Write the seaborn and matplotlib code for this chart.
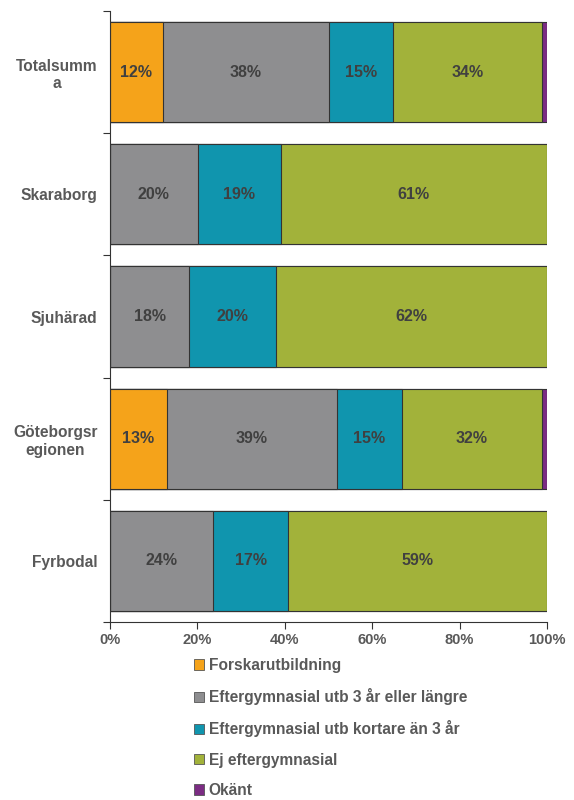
import numpy as np
import pandas as pd
import matplotlib
matplotlib.use("Agg")
import matplotlib.pyplot as plt
import seaborn as sns
from matplotlib.patches import Patch

# data (andel i procent)
regions = ["Totalsumm\na", "Skaraborg", "Sjuhärad", "Göteborgsr\negionen", "Fyrbodal"]
series = ["Forskarutbildning", "Eftergymnasial utb 3 år eller längre",
          "Eftergymnasial utb kortare än 3 år", "Ej eftergymnasial", "Okänt"]
forskar = [12.1, 0.0, 0.0, 13.0, 0.0]
efter_lang = [38.0, 20.1, 18.1, 38.9, 23.6]
efter_kort = [14.6, 19.0, 19.9, 14.9, 17.2]
ej_efter = [34.2, 60.9, 62.0, 32.1, 59.2]
okant = [1.1, 0.0, 0.0, 1.1, 0.0]
colors = ["#F5A31A", "#8E8E90", "#1095AE", "#A2B23A", "#7B2C83"]

sns.set_style("white")
plt.rcParams['font.family'] = ['Liberation Sans', 'DejaVu Sans']
plt.rcParams['font.weight'] = 'bold'

df = pd.DataFrame({"region": regions})
vals = [forskar, efter_lang, efter_kort, ej_efter, okant]
for name, v in zip(series, vals):
    df[name] = v
cum = df[series].cumsum(axis=1)

fig = plt.figure(figsize=(5.74, 8.0), dpi=100)
ax = fig.add_axes([110 / 574, 1 - 622 / 800, 437 / 574, 611 / 800])

# stacked: draw cumulative totals from largest to smallest
for name, col in reversed(list(zip(series, colors))):
    sns.barplot(x=cum[name], y=df["region"], orient="h", color=col,
                width=0.82, edgecolor="#333333", linewidth=0.8, ax=ax,
                saturation=1)

# value labels in segment centres
for i in range(len(regions)):
    left = 0
    for name in series:
        v = df.loc[i, name]
        if v >= 2:
            ax.text(left + v / 2, i, f"{round(v)}%", ha="center", va="center",
                    fontsize=11.5, fontweight="bold", color="#404040")
        left += v

ax.set_xlim(0, 100)
ax.set_ylim(4.5, -0.5)
ax.set_xticks(np.arange(0, 101, 20))
ax.set_xticklabels([f"{t}%" for t in range(0, 101, 20)], fontsize=10.5,
                   fontweight="bold", color="#595959")
ax.set_yticks(range(len(regions)))
ax.set_yticklabels(regions, fontsize=11.2, fontweight="bold", color="#595959",
                   multialignment="center")
ax.set_yticks(np.arange(-0.5, 4.6, 1), minor=True)
ax.tick_params(axis="y", which="major", length=0, pad=9)
ax.tick_params(axis="y", which="minor", length=5, width=0.8, color="#333333",
               direction="out", left=True)
ax.tick_params(axis="x", length=5, width=0.8, color="#333333", direction="out",
               bottom=True, pad=3)
ax.set_xlabel("")
ax.set_ylabel("")
sns.despine(ax=ax)
for s in ["left", "bottom"]:
    ax.spines[s].set_color("#333333")
    ax.spines[s].set_linewidth(0.8)

handles = [Patch(facecolor=c, edgecolor="#555555", linewidth=0.6) for c in colors]
fig.legend(handles, series, loc="upper left",
           bbox_to_anchor=(194 / 574, 1 - 658 / 800), frameon=False,
           fontsize=11.2, labelcolor="#595959", handlelength=0.65,
           handleheight=0.65, handletextpad=0.3, labelspacing=0.98,
           borderpad=0, borderaxespad=0)

fig.savefig("out.png", dpi=100)
